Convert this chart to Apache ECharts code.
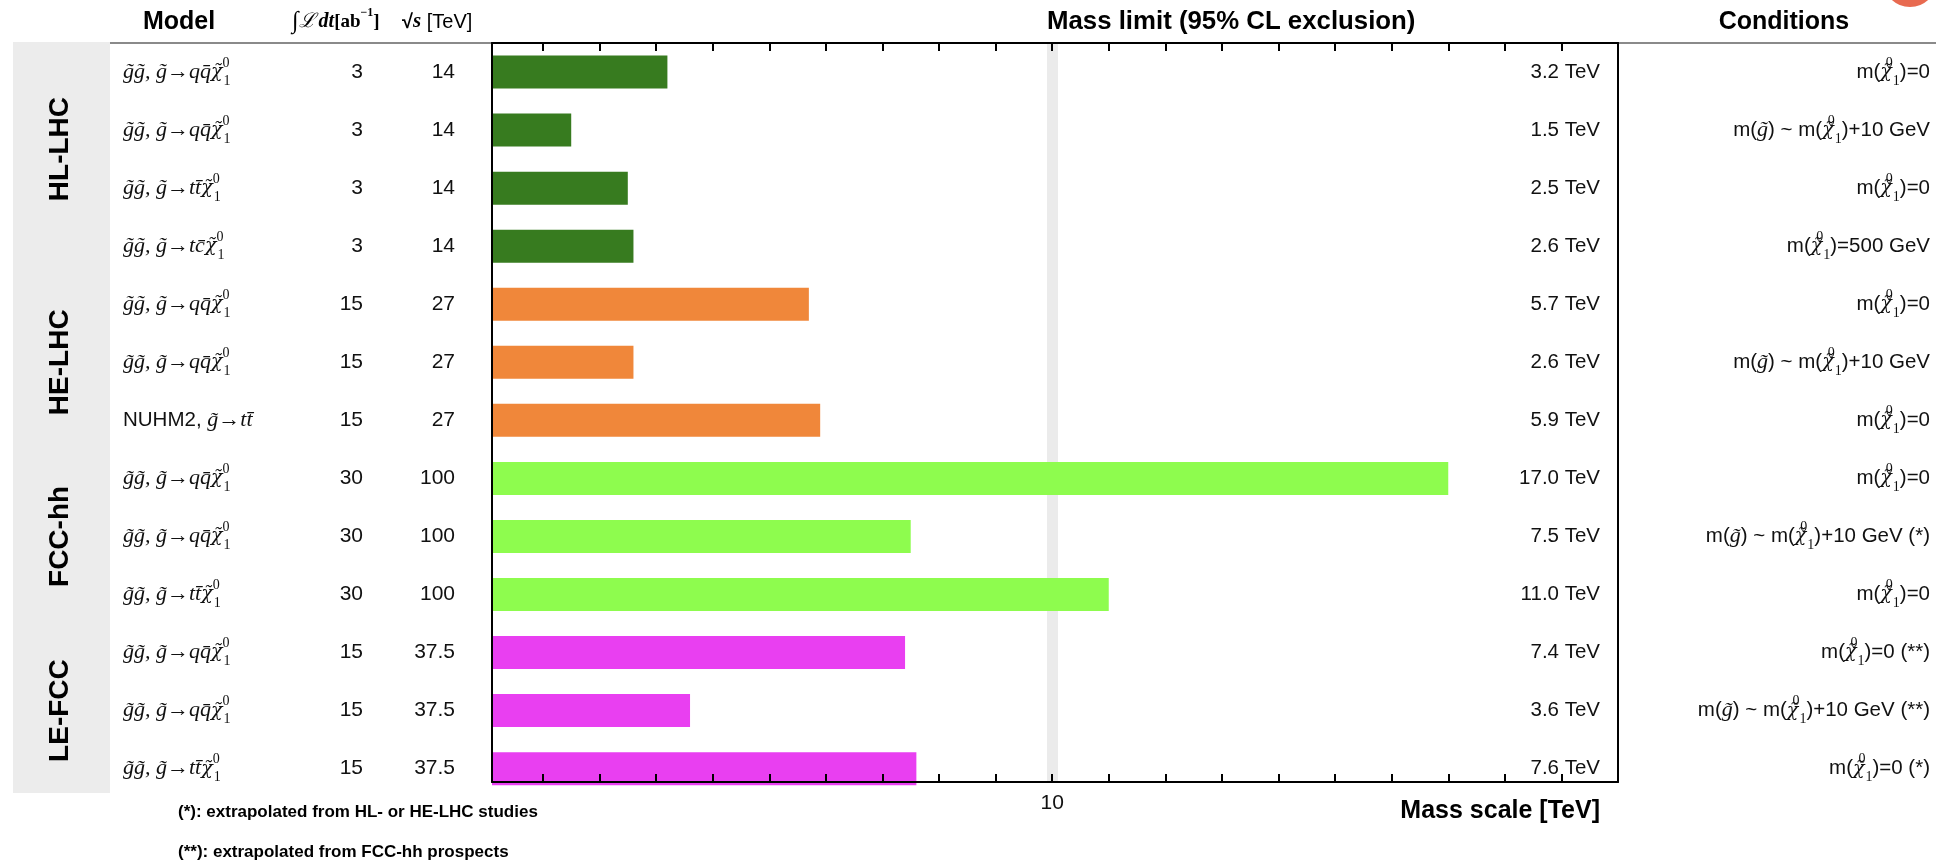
<!DOCTYPE html>
<html>
<head>
<meta charset="utf-8">
<script src="https://cdn.jsdelivr.net/npm/echarts@6/dist/echarts.min.js"></script>
<style>
  html, body { margin: 0; padding: 0; background: #fff; }
  #chart { width: 1936px; height: 864px; }
</style>
</head>
<body>
<div id="chart"></div>
<script>
// ---- data -------------------------------------------------------------
const NEUT = '\u03c7\u0303\u2081\u2070';   // neutralino chi~_1^0
const GLU = 'g\u0303';                      // gluino g~

const models = [
  'g\u0303g\u0303, g\u0303\u2192qq\u0304' + NEUT,
  'g\u0303g\u0303, g\u0303\u2192qq\u0304' + NEUT,
  'g\u0303g\u0303, g\u0303\u2192tt\u0304' + NEUT,
  'g\u0303g\u0303, g\u0303\u2192tc\u0304' + NEUT,
  'g\u0303g\u0303, g\u0303\u2192qq\u0304' + NEUT,
  'g\u0303g\u0303, g\u0303\u2192qq\u0304' + NEUT,
  'NUHM2, g\u0303\u2192tt\u0304',
  'g\u0303g\u0303, g\u0303\u2192qq\u0304' + NEUT,
  'g\u0303g\u0303, g\u0303\u2192qq\u0304' + NEUT,
  'g\u0303g\u0303, g\u0303\u2192tt\u0304' + NEUT,
  'g\u0303g\u0303, g\u0303\u2192qq\u0304' + NEUT,
  'g\u0303g\u0303, g\u0303\u2192qq\u0304' + NEUT,
  'g\u0303g\u0303, g\u0303\u2192tt\u0304' + NEUT
];
const lumi = ['3', '3', '3', '3', '15', '15', '15', '30', '30', '30', '15', '15', '15'];
const sqrtS = ['14', '14', '14', '14', '27', '27', '27', '100', '100', '100', '37.5', '37.5', '37.5'];
const massLimit = [3.2, 1.5, 2.5, 2.6, 5.7, 2.6, 5.9, 17.0, 7.5, 11.0, 7.4, 3.6, 7.6];
const conditions = [
  'm(' + NEUT + ')=0',
  'm(' + GLU + ') ~ m(' + NEUT + ')+10 GeV',
  'm(' + NEUT + ')=0',
  'm(' + NEUT + ')=500 GeV',
  'm(' + NEUT + ')=0',
  'm(' + GLU + ') ~ m(' + NEUT + ')+10 GeV',
  'm(' + NEUT + ')=0',
  'm(' + NEUT + ')=0',
  'm(' + GLU + ') ~ m(' + NEUT + ')+10 GeV (*)',
  'm(' + NEUT + ')=0',
  'm(' + NEUT + ')=0 (**)',
  'm(' + GLU + ') ~ m(' + NEUT + ')+10 GeV (**)',
  'm(' + NEUT + ')=0 (*)'
];
const groups = ['HL-LHC', 'HE-LHC', 'FCC-hh', 'LE-FCC'];
const rowGroup = [0, 0, 0, 0, 1, 1, 1, 2, 2, 2, 3, 3, 3];
const tickValues = [1, 2, 3, 4, 5, 6, 7, 8, 9, 10, 11, 12, 13, 14, 15, 16, 17, 18, 19];
const tickLabels = [10];
const footnotes = [
  '(*): extrapolated from HL- or HE-LHC studies',
  '(**): extrapolated from FCC-hh prospects'
];

// ---- styling ------------------------------------------------------------
const groupColors = ['#377b1f', '#f0873a', '#8efc4e', '#e93ff1'];
const groupLabelShift = [-10, 0, 0, 0];
const SANS = '"Liberation Sans", Arial, sans-serif';
const SERIF = '"Liberation Serif", "DejaVu Serif", serif';
const SERIF_MARK = '"DejaVu Serif", serif';
const AXIS_MIN = 0.1, AXIS_MAX = 20;
const rowIds = models.map((_, i) => String(i));

const mathRich = {
  s:   { fontFamily: SANS, fontSize: 20.5, lineHeight: 32, color: '#111' },
  m:   { fontFamily: SERIF, fontStyle: 'italic', fontSize: 22, lineHeight: 32, color: '#111' },
  x:   { fontFamily: SERIF_MARK, fontStyle: 'italic', fontSize: 19, lineHeight: 32, color: '#111' },
  sup: { fontFamily: SERIF, fontSize: 14, lineHeight: 14, verticalAlign: 'top', width: 1, color: '#111' },
  sub: { fontFamily: SERIF, fontSize: 14, lineHeight: 14, verticalAlign: 'bottom', color: '#111' }
};
const NEUT_RICH = '{x|\u03c7\u0303}{sup|0}{sub|1}';

// process label: serif italic, with an optional sans prefix
function modelRich(str) {
  let prefix = '';
  const m = str.match(/^([A-Z0-9]+, )/);
  if (m) { prefix = '{s|' + m[1] + '}'; str = str.slice(m[1].length); }
  return prefix + str.split(NEUT).map(p => p ? '{m|' + p + '}' : '').join(NEUT_RICH);
}
// condition label: sans text, serif italic particle symbols
function condRich(str) {
  const re = new RegExp('(' + NEUT + '|' + GLU + ')');
  return str.split(re).map(p => {
    if (!p) return '';
    if (p === NEUT) return NEUT_RICH;
    if (p === GLU) return '{m|' + GLU + '}';
    return '{s|' + p + '}';
  }).join('');
}

const chart = echarts.init(document.getElementById('chart'), null, { renderer: 'canvas' });

const hiddenCat = {
  type: 'category', data: rowIds, inverse: true, gridIndex: 0,
  axisLine: { show: false }, axisTick: { show: false }, splitLine: { show: false }
};
const frameX = (pos, labels) => ({
  gridIndex: 1, type: 'value', position: pos, min: AXIS_MIN, max: AXIS_MAX, z: 10,
  axisLine: { show: true, onZero: false, lineStyle: { color: '#000', width: 2 } },
  axisTick: { show: true, inside: true, length: 8, customValues: tickValues, lineStyle: { color: '#000', width: 2 } },
  axisLabel: labels
    ? { show: true, customValues: tickLabels, color: '#111', fontSize: 21, fontFamily: SANS, margin: 11 }
    : { show: false },
  splitLine: { show: false }
});
const frameY = pos => ({
  gridIndex: 1, type: 'value', position: pos, min: 0, max: 1, z: 10,
  axisLine: { show: true, onZero: false, lineStyle: { color: '#000', width: 2 } },
  axisTick: { show: false }, axisLabel: { show: false }, splitLine: { show: false }
});

const option = {
  animation: false,
  backgroundColor: '#fff',
  grid: [
    { left: 492, right: 318, top: 43, height: 13 * 58.05 },
    { left: 492, right: 318, top: 43, height: 739 }
  ],
  xAxis: [
    { gridIndex: 0, type: 'value', min: AXIS_MIN, max: AXIS_MAX, show: false },
    frameX('bottom', true),
    frameX('top', false)
  ],
  yAxis: [
    Object.assign({}, hiddenCat, { position: 'left', axisLabel: {
      interval: 0, margin: 369, align: 'left', rich: mathRich,
      formatter: (v, i) => modelRich(models[i]) } }),
    Object.assign({}, hiddenCat, { position: 'left', axisLabel: {
      interval: 0, margin: 129, align: 'right', fontFamily: SANS, fontSize: 21, color: '#111',
      formatter: (v, i) => lumi[i] } }),
    Object.assign({}, hiddenCat, { position: 'left', axisLabel: {
      interval: 0, margin: 37, align: 'right', fontFamily: SANS, fontSize: 21, color: '#111',
      formatter: (v, i) => sqrtS[i] } }),
    Object.assign({}, hiddenCat, { position: 'right', axisLabel: {
      interval: 0, inside: true, margin: 18, fontFamily: SANS, fontSize: 20.5, color: '#111',
      formatter: (v, i) => massLimit[i].toFixed(1) + ' TeV' } }),
    Object.assign({}, hiddenCat, { position: 'right', axisLabel: {
      interval: 0, margin: 312, align: 'right', rich: mathRich,
      formatter: (v, i) => condRich(conditions[i]) } }),
    frameY('left'),
    frameY('right')
  ],
  series: [
    {
      // light reference band at 10 TeV, behind the bars
      type: 'line', xAxisIndex: 1, yAxisIndex: 5, data: [], z: 1, silent: true,
      markLine: {
        z: 1, silent: true, symbol: ['none', 'none'], label: { show: false },
        lineStyle: { color: '#ebebeb', width: 11, type: 'solid' },
        data: [{ xAxis: 10 }]
      }
    },
    {
      type: 'bar', xAxisIndex: 0, yAxisIndex: 0, barWidth: 33, z: 3,
      data: massLimit.map((v, i) => ({ value: v, itemStyle: { color: groupColors[rowGroup[i]] } }))
    }
  ]
};
chart.setOption(option);

// ---- annotations: headers, group side labels, footnotes ------------------
function groupCenter(g) {
  const rows = rowGroup.map((r, i) => r === g ? i : -1).filter(i => i >= 0);
  const a = chart.convertToPixel({ yAxisIndex: 0 }, rows[0]);
  const b = chart.convertToPixel({ yAxisIndex: 0 }, rows[rows.length - 1]);
  return (a + b) / 2;
}

const graphics = [
  { type: 'rect', z: 0, shape: { x: 13, y: 42, width: 97, height: 751 }, style: { fill: '#ececec' } },
  { type: 'line', z: 0, shape: { x1: 110, y1: 43, x2: 1936, y2: 43 }, style: { stroke: '#8a8a8a', lineWidth: 2 } },
  { type: 'circle', z: 0, shape: { cx: 1910, cy: -20, r: 27 }, style: { fill: '#e86a50' } },
  { type: 'text', x: 179, y: 22, style: { text: 'Model', font: 'bold 25px ' + SANS, fill: '#000', textAlign: 'center', textVerticalAlign: 'middle' } },
  { type: 'text', x: 292, y: 22, style: {
      text: '{int|\u222b}{L|\u2112}{it|dt}{br|[ab}{sp|\u22121}{br|]}',
      textVerticalAlign: 'middle',
      rich: {
        int: { fontFamily: SERIF, fontSize: 24, lineHeight: 30, fill: '#000' },
        L:   { fontFamily: SERIF, fontStyle: 'italic', fontSize: 20, lineHeight: 30, fill: '#000', padding: [0, 3, 0, 0] },
        it:  { fontFamily: SERIF, fontStyle: 'italic', fontWeight: 'bold', fontSize: 20, lineHeight: 30, fill: '#000' },
        br:  { fontFamily: SERIF, fontWeight: 'bold', fontSize: 19, lineHeight: 30, fill: '#000' },
        sp:  { fontFamily: SERIF, fontWeight: 'bold', fontSize: 12, lineHeight: 14, verticalAlign: 'top', fill: '#000' }
      } } },
  { type: 'text', x: 402, y: 22, style: {
      text: '{rt|\u221a}{s|s}{t| [TeV]}',
      textVerticalAlign: 'middle',
      rich: {
        rt: { fontFamily: SANS, fontWeight: 'bold', fontSize: 20, lineHeight: 30, fill: '#000' },
        s:  { fontFamily: SERIF, fontStyle: 'italic', fontWeight: 'bold', fontSize: 21, lineHeight: 30, fill: '#000' },
        t:  { fontFamily: SANS, fontSize: 20, lineHeight: 30, fill: '#000' }
      } } },
  { type: 'text', x: 1047, y: 22, style: { text: 'Mass limit (95% CL exclusion)', font: 'bold 25.8px ' + SANS, fill: '#000', textVerticalAlign: 'middle' } },
  { type: 'text', x: 1784, y: 22, style: { text: 'Conditions', font: 'bold 25px ' + SANS, fill: '#000', textAlign: 'center', textVerticalAlign: 'middle' } },
  { type: 'text', x: 1600, y: 811, style: { text: 'Mass scale [TeV]', font: 'bold 25px ' + SANS, fill: '#000', textAlign: 'right', textVerticalAlign: 'middle' } }
];
footnotes.forEach((t, i) => graphics.push({
  type: 'text', x: 178, y: 812 + i * 40,
  style: { text: t, font: 'bold 17px ' + SANS, fill: '#000', textVerticalAlign: 'middle' }
}));
groups.forEach((g, gi) => graphics.push({
  type: 'text', x: 60, y: groupCenter(gi) + groupLabelShift[gi], rotation: Math.PI / 2,
  style: { text: g, font: 'bold 28px ' + SANS, fill: '#000', textAlign: 'center', textVerticalAlign: 'middle' }
}));
chart.setOption({ graphic: graphics });
</script>
</body>
</html>
